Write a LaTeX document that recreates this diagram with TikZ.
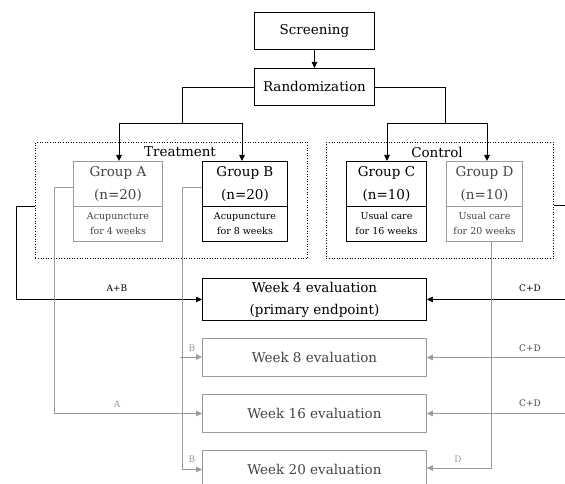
\documentclass[tikz,border=0pt]{standalone}
\usepackage{fontspec}
\setmainfont{DejaVu Serif}
\usetikzlibrary{arrows.meta,positioning}
\definecolor{lgrey}{HTML}{9A9A9A}
\definecolor{dgrey}{HTML}{444444}
\tikzset{
  x=1pt,y=-1pt,
  bigtxt/.style={font=\fontsize{13.5}{16}\selectfont},
  smalltxt/.style={font=\fontsize{9.5}{15}\selectfont},
  lbl/.style={font=\fontsize{9}{11}\selectfont,inner sep=0pt},
  bbox/.style={draw=black,line width=0.9pt,inner sep=0pt,align=center,anchor=north west},
  gbox/.style={draw=lgrey,line width=0.9pt,inner sep=0pt,align=center,anchor=north west,text=dgrey},
  dotbox/.style={draw=black,dotted,line width=0.6pt,inner sep=0pt,anchor=north west},
  blk/.style={draw=black,line width=0.8pt},
  gry/.style={draw=lgrey,line width=0.9pt},
  tip/.style={-{Triangle[length=6pt,width=5.5pt]}},
}
\begin{document}
\begin{tikzpicture}
\useasboundingbox (0,0) rectangle (565,484);
% top boxes
\node[bbox,bigtxt,minimum width=120pt,minimum height=37pt] (scr) at (254,12) {Screening};
\node[bbox,bigtxt,minimum width=120pt,minimum height=37pt] (rnd) at (254,68) {Randomization};
% dotted group frames
\node[dotbox,minimum width=272pt,minimum height=116pt] (treat) at (35,142) {};
\node[dotbox,minimum width=227pt,minimum height=116pt] (ctrl) at (326,142) {};
\node[bigtxt,inner sep=0pt] (tlab) at (180,152) {Treatment};
\node[bigtxt,inner sep=0pt] (clab) at (437,152) {Control};
% group boxes: top and bottom parts
\node[gbox,bigtxt,minimum width=89pt,minimum height=45pt,font=\fontsize{13.5}{23}\selectfont] (gAt) at (73,161) {Group A\\(n=20)};
\node[gbox,smalltxt,minimum width=89pt,minimum height=35pt] (gAb) at (73,206) {Acupuncture\\for 4 weeks};
\node[bbox,bigtxt,minimum width=85pt,minimum height=45pt,font=\fontsize{13.5}{23}\selectfont] (gBt) at (202,161) {Group B\\(n=20)};
\node[bbox,smalltxt,minimum width=85pt,minimum height=35pt] (gBb) at (202,206) {Acupuncture\\for 8 weeks};
\node[bbox,bigtxt,minimum width=80pt,minimum height=45pt,font=\fontsize{13.5}{23}\selectfont] (gCt) at (346,161) {Group C\\(n=10)};
\node[bbox,smalltxt,minimum width=80pt,minimum height=35pt] (gCb) at (346,206) {Usual care\\for 16 weeks};
\node[gbox,bigtxt,minimum width=76pt,minimum height=45pt,font=\fontsize{13.5}{23}\selectfont] (gDt) at (446,161) {Group D\\(n=10)};
\node[gbox,smalltxt,minimum width=76pt,minimum height=35pt] (gDb) at (446,206) {Usual care\\for 20 weeks};
% evaluation boxes
\node[bbox,bigtxt,minimum width=224pt,minimum height=42pt,font=\fontsize{13.5}{22}\selectfont] (w4) at (202,278) {Week 4 evaluation\\(primary endpoint)};
\node[gbox,bigtxt,minimum width=224pt,minimum height=38pt] (w8) at (202,338) {Week 8 evaluation};
\node[gbox,bigtxt,minimum width=224pt,minimum height=38pt] (w16) at (202,394) {Week 16 evaluation};
\node[gbox,bigtxt,minimum width=224pt,minimum height=38pt] (w20) at (202,450) {Week 20 evaluation};
% randomization tree
\coordinate (jl) at (182,123);
\coordinate (jr) at (445,123);
\coordinate (aL) at (119,123);
\coordinate (bL) at (242,123);
\coordinate (cL) at (387,123);
\coordinate (dL) at (487,123);
\draw[blk,tip] (scr) -- (rnd);
\draw[blk] (rnd.west) -| (jl);
\draw[blk] (rnd.east) -| (jr);
\draw[blk,tip] (jl) -- (aL) -- (aL |- gAt.north);
\draw[blk,tip] (jl) -- (bL) -- (bL |- gBt.north);
\draw[blk,tip] (jr) -- (cL) -- (cL |- gCt.north);
\draw[blk,tip] (jr) -- (dL) -- (dL |- gDt.north);
% A+B to week 4
\coordinate (lb) at (16,206);
\draw[blk,tip] (treat.west |- lb) -- (lb) |- (w4.west);
% A to week 16
\coordinate (la) at (54,187);
\draw[gry,tip] (gAt.west |- la) -- (la) |- (w16.west);
% B to week 8 and week 20
\coordinate (lbb) at (182,187);
\coordinate (b8) at (180,357);
\draw[gry,tip] (gBt.west |- lbb) -- (lbb) |- (w20.west);
\draw[gry,tip] (b8) -- (b8 -| w8.west);
% C+D from right
\coordinate (rr) at (568,205);
\draw[blk] (ctrl.east |- rr) -- (rr) -- (rr |- w16.east);
\draw[blk,tip] (rr |- w4.east) -- (w4.east);
\draw[gry,tip] (rr |- w8.east) -- (w8.east);
\draw[gry,tip] (rr |- w16.east) -- (w16.east);
% D to week 20
\coordinate (dd) at (491,468);
\draw[gry,tip] (gDb.south -| dd) -- (dd) -- (w20.east |- dd);
% labels
\node[lbl] (lab1) at (117,288) {A+B};
\node[lbl,text=lgrey] (lab2) at (117,404) {A};
\node[lbl,text=lgrey] (lab3) at (192,348) {B};
\node[lbl,text=lgrey] (lab4) at (192,459) {B};
\node[lbl] (lab5) at (530,288) {C+D};
\node[lbl,text=dgrey] (lab6) at (530,348) {C+D};
\node[lbl,text=dgrey] (lab7) at (530,403) {C+D};
\node[lbl,text=lgrey] (lab8) at (458,459) {D};
\end{tikzpicture}
\end{document}
